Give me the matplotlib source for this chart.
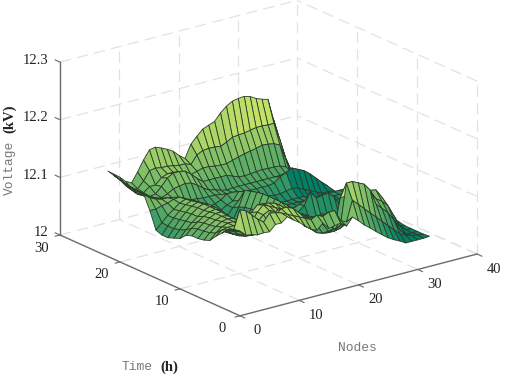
import numpy as np
import matplotlib
matplotlib.use("Agg")
import matplotlib.pyplot as plt
from matplotlib.colors import PowerNorm
from mpl_toolkits.mplot3d import proj3d

# voltage above 12 kV in volts, one row per hour, one column per node
nodes = list(range(1, 34))
hours = list(range(1, 24))
volts = [
    [140,130,128,125,126,125,135,135,143,135,128,119,111,106,116,104,106,108,100,113,104,94,86,77,69,61,55,50,44,44,44,44,45],
    [138,169,165,155,145,137,150,148,145,140,135,130,125,120,125,120,125,125,105,100,135,125,115,105,95,85,75,65,55,50,47,45,44],
    [133,130,125,120,118,118,120,125,135,145,145,140,130,115,108,110,115,105,85,90,160,160,155,150,137,110,100,90,75,55,45,44,44],
    [122,125,122,118,116,115,125,135,140,135,130,125,120,115,110,108,108,110,90,80,130,130,128,128,128,125,112,105,95,75,55,45,44],
    [112,120,122,122,118,112,120,135,145,140,135,130,125,118,110,105,100,100,85,70,72,75,80,95,110,118,122,120,105,80,60,48,44],
    [100,110,118,122,122,118,115,130,140,140,138,135,128,120,112,105,100,96,80,62,60,60,62,68,80,95,110,110,95,78,62,52,46],
    [96,106,114,120,122,120,112,105,105,105,108,112,118,118,114,106,100,95,80,58,55,55,55,58,65,78,95,95,88,75,62,54,48],
    [94,104,112,118,122,120,112,100,85,78,75,75,85,100,120,112,100,90,80,60,55,52,50,50,52,55,70,80,72,68,62,56,50],
    [94,103,111,117,122,122,114,102,80,72,68,68,80,98,120,112,100,90,78,60,65,70,62,62,62,58,55,60,60,60,60,58,52],
    [90,100,108,115,120,122,116,104,76,68,62,62,76,96,120,112,100,90,80,80,89,109,96,98,99,90,73,70,68,66,62,58,54],
    [80,92,102,110,118,122,118,106,72,64,58,58,72,94,120,112,100,90,82,80,85,88,85,82,80,76,70,68,66,64,62,60,56],
    [76,88,100,110,118,122,118,106,70,62,56,56,70,92,118,112,100,90,80,74,72,70,68,68,66,64,64,64,64,63,62,60,58],
    [72,85,98,108,116,120,116,104,68,60,55,55,68,90,115,110,100,90,78,70,66,63,62,62,62,62,62,62,62,62,62,62,60],
    [72,85,96,106,114,118,114,102,66,58,54,55,66,86,112,106,98,88,76,68,64,62,60,60,60,60,60,60,62,62,62,62,61],
    [76,86,96,104,112,116,112,100,66,58,56,60,68,80,90,102,96,88,76,66,62,60,60,60,60,60,60,60,62,62,62,62,62],
    [105,105,108,110,114,115,110,100,68,62,62,68,74,80,84,98,94,88,78,68,62,60,60,60,60,60,60,55,52,50,50,50,50],
    [128,120,115,112,112,110,106,98,78,76,76,78,80,84,92,92,90,88,80,75,72,70,68,68,70,72,70,65,60,55,50,50,50],
    [130,122,115,110,106,102,100,98,90,90,90,88,88,88,86,84,84,82,82,80,80,80,80,82,90,95,100,95,90,82,72,62,53],
    [131,122,114,106,100,100,104,110,112,114,112,106,98,92,90,86,84,85,85,85,85,85,85,85,85,85,85,85,62,58,55,52,50],
    [133,122,112,104,100,102,112,124,130,130,128,120,110,102,102,102,102,102,98,94,93,94,95,96,95,95,94,90,70,62,58,54,50],
    [135,125,112,102,102,110,110,120,124,124,120,114,112,115,118,118,116,115,115,118,121,124,126,128,131,130,128,123,95,70,60,54,50],
    [138,128,115,105,104,115,130,132,130,130,128,126,126,122,136,141,142,142,140,145,151,152,153,155,157,157,156,156,125,90,65,56,50],
    [141,133,125,115,110,126,144,159,161,157,152,146,136,128,150,161,171,175,179,191,200,206,208,209,206,200,196,193,154,117,71,60,52],
]
x_ticks = [0, 10, 20, 30, 40]
y_ticks = [0, 10, 20, 30]
z_ticks = [12, 12.1, 12.2, 12.3]
x_labels = ["0", "10", "20", "30", "40"]
y_labels = ["0", "10", "20", "30"]
z_labels = ["12", "12.1", "12.2", "12.3"]

W, H = 505, 377
SERIF = "Liberation Serif"
MONO = "Liberation Mono"
GRID = "#e2e2e2"
AXIS = "#6a6a6a"

fig = plt.figure(figsize=(W / 100, H / 100), dpi=100)
ax = fig.add_axes([0.1, 0.1, 400 / W, 400 / H], projection="3d", proj_type="ortho")
ax.computed_zorder = False
ax.view_init(elev=20, azim=-127.3)
ax.set_box_aspect((298, 297, 184))
ax.set_xlim(0, 40)
ax.set_ylim(0, 30)
ax.set_zlim(12, 12.3)
ax.set_axis_off()


def to_2d(x, y, z):
    u, v, _ = proj3d.proj_transform(x, y, z, ax.get_proj())
    return float(u), float(v)


# put the box where the reference has it
a, b = ax.transData.transform([to_2d(0, 30, 12), to_2d(40, 0, 12)])
size = 400 * 417 / (b[0] - a[0])
ax.set_position([0, 0, size / W, size / H])
a = ax.transData.transform(to_2d(0, 30, 12))
ax.set_position([(60 - a[0]) / W, (H - 235 - a[1]) / H, size / W, size / H])


def line(p, q, color=GRID, dashed=True, lw=0.9, zorder=1):
    ls = (0, (9, 5)) if dashed else "-"
    ax.plot([p[0], q[0]], [p[1], q[1]], [p[2], q[2]], color=color, ls=ls, lw=lw, zorder=zorder)


# dashed grid on floor and the two back walls
for x in x_ticks[1:]:
    line((x, 0, 12), (x, 30, 12))
    line((x, 30, 12), (x, 30, 12.3))
line((0, 30, 12.3), (40, 30, 12.3))
for y in y_ticks[1:-1]:
    line((0, y, 12), (40, y, 12))
    line((40, y, 12), (40, y, 12.3))
line((0, 30, 12), (40, 30, 12))
line((40, 0, 12), (40, 30, 12))
line((40, 0, 12), (40, 0, 12.3))
line((40, 0, 12.3), (40, 30, 12.3))
for z in z_ticks[1:-1]:
    line((0, 30, z), (40, 30, z))
    line((40, 0, z), (40, 30, z))

# surface, each quad coloured from its first corner
X, Y = np.meshgrid(nodes, hours)
Z = 12 + np.array(volts) / 1000
C = Z.copy()
C[15:18, 25:] = 12.05  # far end of the feeder stays dark teal in the reference
norm = PowerNorm(0.8, vmin=12.05, vmax=12.2)
ax.plot_surface(X, Y, Z, facecolors=plt.get_cmap("summer")(norm(C)), rstride=1, cstride=1,
                edgecolor="#2b3a2b", linewidth=0.6, shade=False, zorder=2)

# solid axes and ticks
line((0, 0, 12), (40, 0, 12), AXIS, False, 1.0, 3)
line((0, 0, 12), (0, 30, 12), AXIS, False, 1.0, 3)
line((0, 30, 12), (0, 30, 12.3), AXIS, False, 1.0, 3)
for x in x_ticks:
    line((x, 0, 12), (x, -0.8, 12), AXIS, False, 0.8, 3)
for y in y_ticks:
    line((0, y, 12), (-0.8, y, 12), AXIS, False, 0.8, 3)
for z in z_ticks:
    line((0, 30, z), (0, 30.8, z), AXIS, False, 0.8, 3)


def tick_text(label, where, dx, dy, ha="center"):
    ax.annotate(label, xy=to_2d(*where), xytext=(dx, dy), textcoords="offset pixels",
                ha=ha, va="center", family=SERIF, fontsize=10.5, color="#222222",
                annotation_clip=False)


for x, s in zip(x_ticks, x_labels):
    tick_text(s, (x, 0, 12), 17, -15)
for y, s in zip(y_ticks, y_labels):
    tick_text(s, (0, y, 12), -18, -13)
for z, s in zip(z_ticks, z_labels):
    tick_text(s, (0, 30, z), -12, 2, ha="right")


def label(px, py, s, color, rotation=0, bold=False):
    fig.text(px / W, 1 - py / H, s, color=color, rotation=rotation, ha="left", va="center",
             family=SERIF if bold else MONO, fontsize=10.5 if bold else 9.3,
             weight="bold" if bold else "normal", rotation_mode="anchor")


label(122, 367, "Time", "#777777")
label(160, 367, "(h)", "#222222", bold=True)
label(338, 348, "Nodes", "#777777")
label(10, 195, "Voltage", "#777777", rotation=90)
label(10, 133, "(kV)", "#222222", rotation=90, bold=True)

fig.savefig("out.png", dpi=100)
